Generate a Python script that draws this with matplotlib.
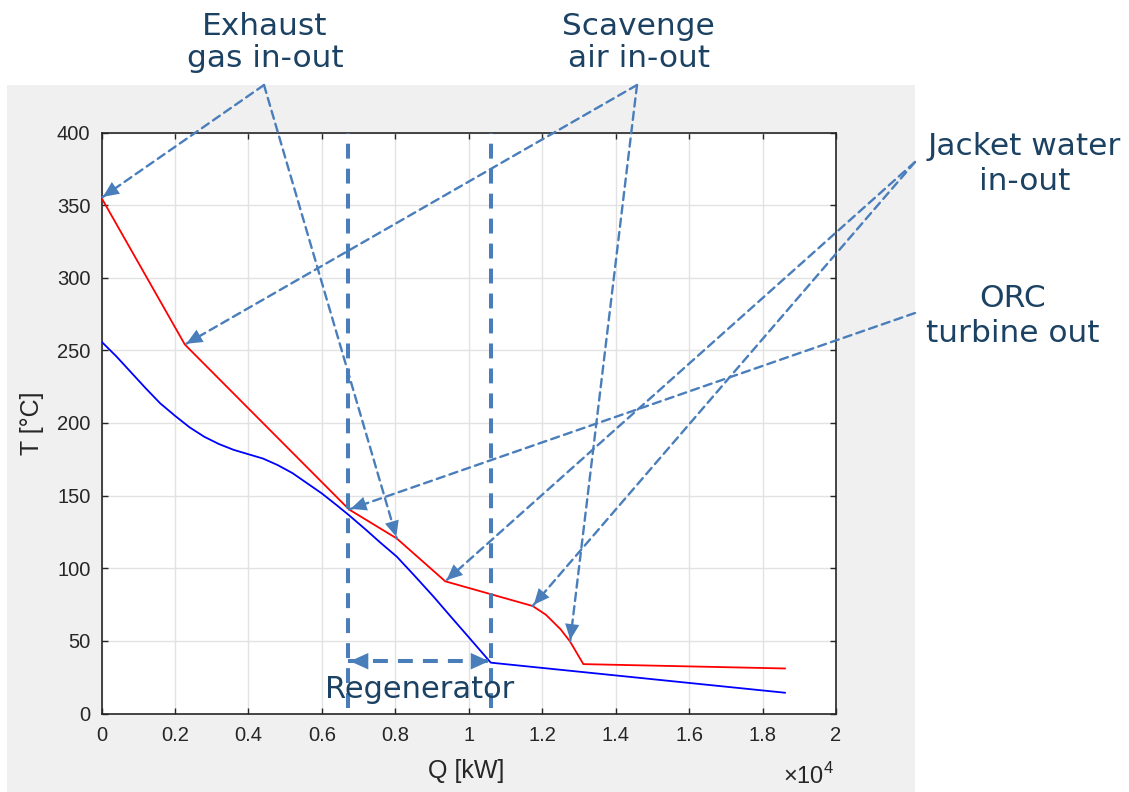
import numpy as np
import matplotlib
matplotlib.use('Agg')
import matplotlib.pyplot as plt
from matplotlib.patches import Rectangle
from matplotlib.ticker import FuncFormatter

# hot side (exhaust gas -> scavenge air -> jacket water), Q in kW, T in degC
hot_q = [0, 2270, 6740, 8040, 9360, 11740, 12100, 12500, 12760, 13120, 18610]
hot_T = [355, 254, 140.5, 120.5, 91, 74, 68, 58, 49.5, 34, 31]

# cold side (ORC working fluid)
cold_q = [0, 400, 800, 1200, 1600, 2000, 2400, 2800, 3200, 3600, 4000, 4400, 4800,
          5200, 5600, 6000, 6400, 6740, 7200, 7600, 8040, 8500, 9040, 9500, 10000,
          10600, 18610]
cold_T = [256, 246, 235, 224, 213.5, 205, 197, 190.5, 185.5, 181.5, 178.5, 175.5, 171,
          165.5, 158.5, 151.5, 143.5, 136.5, 126.5, 117.5, 108, 95.5, 80.5, 67, 52.5,
          35, 14.3]

# regenerator span
regen_q = [6720, 10600]
regen_T = 36
regen_lims = [3.8, 400]

W, H = 1129, 792
arrow_c = '#4a7ebb'
text_c = '#1c4263'
axis_c = '#262626'

plt.rcParams['font.family'] = ['Liberation Sans', 'DejaVu Sans']
plt.rcParams['mathtext.fontset'] = 'custom'
plt.rcParams['mathtext.rm'] = 'Liberation Sans'

fig = plt.figure(figsize=(W / 100, H / 100), dpi=100)
fig.add_artist(Rectangle((7 / W, 0), (915 - 7) / W, (792 - 85) / H, transform=fig.transFigure,
                         facecolor='#f0f0f0', edgecolor='none', zorder=-5))

ax = fig.add_axes([101.5 / W, 78.5 / H, 734.5 / W, 581 / H])
ax.plot(hot_q, hot_T, color='#ff0000', lw=1.3, zorder=3)
ax.plot(cold_q, cold_T, color='#0000ff', lw=1.3, zorder=3)

ax.set_xlim(0, 20000)
ax.set_ylim(0, 400)
ax.set_xticks(np.arange(0, 20001, 2000))
ax.set_yticks(np.arange(0, 401, 50))
ax.xaxis.set_major_formatter(FuncFormatter(lambda v, p: '%g' % (v / 1e4)))
ax.grid(True, color='#e2e2e2', lw=1.0)
ax.set_axisbelow(True)
for s in ax.spines.values():
    s.set_color(axis_c)
    s.set_linewidth(1.2)
ax.tick_params(direction='in', length=4, width=1, top=True, right=True,
               colors=axis_c, labelsize=14.5)
ax.tick_params(axis='x', pad=9)
ax.tick_params(axis='y', pad=8)

ax.set_xlabel('Q [kW]', fontsize=18, color=axis_c)
ax.set_ylabel('T [°C]', fontsize=18, color=axis_c)
ax.xaxis.set_label_coords(0.496, -0.078)
ax.yaxis.set_label_coords(-0.078, 0.5)
fig.text(834 / W, 1 - 784 / H, r'$\times10^{4}$', ha='right', va='baseline',
         fontsize=17, color=axis_c)


def arrow(xy, xytext, lw, dash, ms, textcoords='figure pixels'):
    # dashed shaft, then a solid filled head on top
    if lw > 0:
        ax.annotate('', xy=xy, xytext=xytext, textcoords=textcoords, annotation_clip=False,
                    arrowprops=dict(arrowstyle='-', color=arrow_c, lw=lw, linestyle=(0, dash),
                                    shrinkA=0, shrinkB=0))
    ax.annotate('', xy=xy, xytext=xytext, textcoords=textcoords, annotation_clip=False,
                arrowprops=dict(arrowstyle='-|>,head_length=0.6,head_width=0.27',
                                mutation_scale=ms, facecolor=arrow_c, edgecolor='none',
                                shrinkA=0, shrinkB=0))


# regenerator boundaries and double arrow
for q in regen_q:
    ax.plot([q, q], regen_lims, color=arrow_c, lw=2.9, dashes=(3.7, 2.5), clip_on=False, zorder=4)
ax.plot(regen_q, [regen_T, regen_T], color=arrow_c, lw=2.9, dashes=(3.7, 2.5), zorder=4)
mid = (regen_q[0] + regen_q[1]) / 2
arrow((regen_q[0], regen_T), (mid, regen_T), 0, None, 22, textcoords='data')
arrow((regen_q[1], regen_T), (mid, regen_T), 0, None, 22, textcoords='data')
ax.text(np.mean(regen_q), 11, 'Regenerator', ha='center', va='baseline',
        fontsize=22, color=text_c, family='DejaVu Sans', zorder=5)

# labels with pointer arrows (apex in image pixels, y from top)
pointers = [
    ((264, 85), [0, 3]),
    ((637, 85), [1, 8]),
    ((915, 162), [4, 5]),
]
for (px, py), idx in pointers:
    for i in idx:
        arrow((hot_q[i], hot_T[i]), (px, H - py), 1.7, (3.5, 2.2), 19)
arrow((hot_q[2], hot_T[2]), (915, H - 313), 1.7, (3.5, 2.2), 19)

labels = [
    ('Exhaust', 265, 35), ('gas in-out', 265, 67),
    ('Scavenge', 638, 35), ('air in-out', 639, 67),
    ('Jacket water', 1024, 155), ('in-out', 1025, 190),
    ('ORC', 1013, 307), ('turbine out', 1013, 342),
]
for s, x, y in labels:
    fig.text(x / W, 1 - y / H, s, ha='center', va='baseline', fontsize=22.5,
             color=text_c, family='DejaVu Sans')

fig.savefig('out.png', dpi=100)
